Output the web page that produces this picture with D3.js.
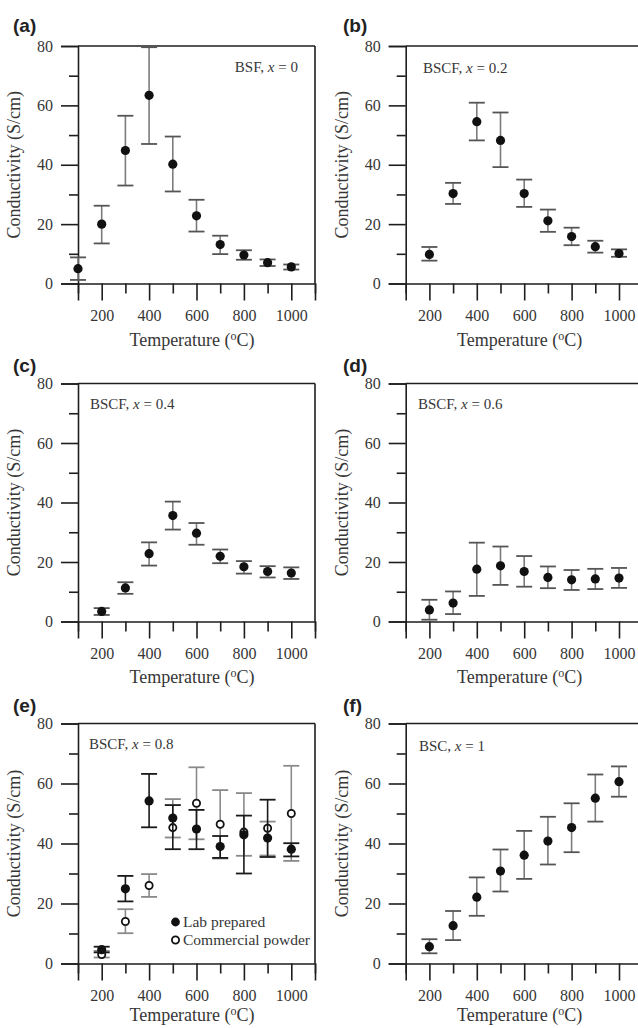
<!DOCTYPE html>
<html>
<head>
<meta charset="utf-8">
<script src="https://cdn.jsdelivr.net/npm/d3@7"></script>
<style>
  html, body { margin: 0; padding: 0; background: #fff; }
  svg { display: block; }
</style>
</head>
<body>
<svg id="chart" width="638" height="1028"></svg>
<script>
// ---------- data ----------
const tempsA = [100, 200, 300, 400, 500, 600, 700, 800, 900, 1000];
const temps = [200, 300, 400, 500, 600, 700, 800, 900, 1000];

const panelLabels = ["(a)", "(b)", "(c)", "(d)", "(e)", "(f)"];
const materialNames = ["BSF", "BSCF", "BSCF", "BSCF", "BSCF", "BSC"];
const xValues = ["0", "0.2", "0.4", "0.6", "0.8", "1"];

// (a) BSF, x = 0
const aMean = [5.0, 20.0, 44.8, 63.4, 40.2, 22.8, 13.1, 9.6, 7.0, 5.6];
const aHigh = [8.8, 26.2, 56.5, 79.6, 49.5, 28.2, 16.1, 11.2, 8.1, 6.4];
const aLow  = [1.2, 13.5, 33.0, 47.0, 31.0, 17.5, 9.9, 8.0, 5.9, 4.7];
// (b) BSCF, x = 0.2
const bMean = [9.8, 30.3, 54.5, 48.2, 30.3, 21.1, 15.8, 12.4, 10.1];
const bHigh = [12.3, 33.9, 60.9, 57.6, 35.0, 24.9, 18.8, 14.4, 11.5];
const bLow  = [7.7, 26.8, 48.2, 39.2, 25.8, 17.4, 12.9, 10.4, 9.0];
// (c) BSCF, x = 0.4
const cMean = [3.4, 11.3, 22.8, 35.6, 29.7, 21.9, 18.4, 16.8, 16.3];
const cHigh = [4.5, 13.2, 26.6, 40.3, 33.1, 24.2, 20.3, 18.6, 18.2];
const cLow  = [2.2, 9.3, 18.8, 30.9, 25.8, 19.6, 16.1, 14.8, 14.3];
// (d) BSCF, x = 0.6
const dMean = [3.9, 6.2, 17.6, 18.7, 16.8, 14.8, 14.0, 14.3, 14.6];
const dHigh = [7.3, 10.1, 26.5, 25.2, 22.0, 18.5, 17.3, 17.7, 18.0];
const dLow  = [0.6, 2.5, 8.6, 12.3, 11.7, 11.2, 10.6, 10.9, 11.3];
// (e) BSCF, x = 0.8 : lab prepared
const eLabMean = [4.6, 24.9, 54.2, 48.5, 44.8, 39.0, 42.9, 41.8, 38.1];
const eLabHigh = [5.6, 29.2, 63.2, 52.8, 51.2, 42.5, 49.3, 54.6, 40.1];
const eLabLow  = [3.7, 20.7, 45.4, 38.1, 38.1, 35.2, 30.0, 35.5, 35.7];
// (e) BSCF, x = 0.8 : commercial powder
const eComMean = [3.0, 14.0, 26.0, 45.3, 53.4, 46.4, 43.8, 45.1, 50.0];
const eComHigh = [4.2, 18.1, 29.8, 54.8, 65.4, 57.8, 56.8, 47.3, 65.9];
const eComLow  = [2.0, 10.1, 22.2, 42.0, 41.4, 35.0, 35.9, 36.0, 34.2];
// (f) BSC, x = 1
const fMean = [5.6, 12.6, 22.1, 30.8, 36.1, 40.8, 45.3, 55.1, 60.6];
const fHigh = [8.1, 17.5, 28.7, 38.0, 44.2, 48.9, 53.4, 63.0, 65.7];
const fLow  = [3.4, 7.8, 15.9, 24.0, 28.2, 33.0, 37.1, 47.3, 55.6];

const legendLabels = ["Lab prepared", "Commercial powder"];
const yMajorTicks = [0, 20, 40, 60, 80];
const yMinorTicks = [10, 30, 50, 70];
const xMajorTicks = [200, 400, 600, 800, 1000];
const xMinorTicks = [100, 300, 500, 700, 900, 1100];
const xTitle = "Temperature (";
const yTitle = "Conductivity (S/cm)";

// ---------- helpers ----------
function series(t, m, hi, lo) {
  return t.map((d, i) => ({ t: d, v: m[i], hi: hi[i], lo: lo[i] }));
}

const panels = [
  { series: [{ pts: series(tempsA, aMean, aHigh, aLow), open: false }] },
  { series: [{ pts: series(temps, bMean, bHigh, bLow), open: false }] },
  { series: [{ pts: series(temps, cMean, cHigh, cLow), open: false }] },
  { series: [{ pts: series(temps, dMean, dHigh, dLow), open: false }] },
  { series: [
      { pts: series(temps, eComMean, eComHigh, eComLow), open: true, barColor: "#8a8a8a", capColor: "#8a8a8a" },
      { pts: series(temps, eLabMean, eLabHigh, eLabLow), open: false, barColor: "#1a1a1a", capColor: "#1a1a1a" }
    ], legend: true },
  { series: [{ pts: series(temps, fMean, fHigh, fLow), open: false }] }
];

// layout (positions only)
const colLeft = [78, 405.7];
const plotW = 237;
const rowTop = [46, 383.5, 723.5];
const rowBottom = [283.5, 621.5, 963.5];
const xTitleBase = [346, 683, 1021];
const labelPos = [[13, 32], [343, 32], [13, 372], [343, 372], [13, 712], [343, 712]];
const annotPos = [
  { x: 298, y: 72, anchor: "end" },
  { x: 423, y: 73, anchor: "start" },
  { x: 90, y: 409, anchor: "start" },
  { x: 418, y: 409, anchor: "start" },
  { x: 89, y: 749, anchor: "start" },
  { x: 419, y: 751, anchor: "start" }
];

const serif = "'Liberation Serif', 'Times New Roman', Times, serif";
const textCol = "#363636";
const axisCol = "#1e1e1e";

const svg = d3.select("#chart");

panels.forEach((p, i) => {
  const col = i % 2, row = Math.floor(i / 2);
  const x0 = colLeft[col];
  const x = d3.scaleLinear().domain([100, 1100]).range([x0, x0 + plotW]);
  const y = d3.scaleLinear().domain([0, 80]).range([rowBottom[row], rowTop[row]]);
  const g = svg.append("g");

  // frame: top & right
  g.append("line").attr("x1", x(100)).attr("x2", x(1100)).attr("y1", y(80)).attr("y2", y(80))
    .attr("stroke", axisCol).attr("stroke-width", 1.6);
  g.append("line").attr("x1", x(1100)).attr("x2", x(1100)).attr("y1", y(80)).attr("y2", y(0))
    .attr("stroke", axisCol).attr("stroke-width", 1.6);

  // y axis
  const yMaj = g.append("g").attr("transform", `translate(${x(100)},0)`)
    .call(d3.axisLeft(y).tickValues(yMajorTicks).tickSize(17).tickPadding(8).tickFormat(d3.format("d")));
  const yMin = g.append("g").attr("transform", `translate(${x(100)},0)`)
    .call(d3.axisLeft(y).tickValues(yMinorTicks).tickSize(9).tickFormat(""));
  // x axis
  const xMaj = g.append("g").attr("transform", `translate(0,${y(0)})`)
    .call(d3.axisBottom(x).tickValues(xMajorTicks).tickSize(17).tickPadding(9).tickFormat(d3.format("d")));
  const xMin = g.append("g").attr("transform", `translate(0,${y(0)})`)
    .call(d3.axisBottom(x).tickValues(xMinorTicks).tickSize(10).tickFormat(""));

  [yMaj, yMin, xMaj, xMin].forEach(a => {
    a.selectAll("path.domain").attr("stroke", axisCol).attr("stroke-width", 1.6);
    a.selectAll(".tick line").attr("stroke", axisCol).attr("stroke-width", 1.6);
    a.selectAll(".tick text").attr("fill", textCol).attr("font-family", serif).attr("font-size", 16);
  });
  yMin.select("path.domain").remove();
  xMin.select("path.domain").remove();

  // axis titles
  const xt = g.append("text")
    .attr("x", x0 + 114).attr("y", xTitleBase[row])
    .attr("text-anchor", "middle").attr("font-family", serif).attr("font-size", 18).attr("fill", textCol);
  xt.append("tspan").text(xTitle);
  xt.append("tspan").attr("font-size", 12).attr("dy", -6).text("o");
  xt.append("tspan").attr("dy", 6).text("C)");

  g.append("text")
    .attr("transform", `translate(${x0 - 58},${(rowTop[row] + rowBottom[row]) / 2}) rotate(-90)`)
    .attr("text-anchor", "middle").attr("font-family", serif).attr("font-size", 18).attr("fill", textCol)
    .text(yTitle);

  // panel label
  g.append("text").attr("x", labelPos[i][0]).attr("y", labelPos[i][1])
    .attr("font-family", "'Liberation Sans', Arial, sans-serif").attr("font-weight", "bold")
    .attr("font-size", 19).attr("fill", "#222").text(panelLabels[i]);

  // annotation
  const an = g.append("text").attr("x", annotPos[i].x).attr("y", annotPos[i].y)
    .attr("text-anchor", annotPos[i].anchor).attr("font-family", serif).attr("font-size", 15).attr("fill", textCol);
  an.append("tspan").text(materialNames[i] + ", ");
  an.append("tspan").attr("font-style", "italic").text("x");
  an.append("tspan").text(" = " + xValues[i]);

  // data
  const capW = 16;
  p.series.forEach(s => {
    const sg = g.append("g");
    const bc = s.barColor || "#7c7c7c";
    const cc = s.capColor || "#555";
    sg.selectAll("line.v").data(s.pts).join("line").attr("class", "v")
      .attr("x1", d => x(d.t)).attr("x2", d => x(d.t))
      .attr("y1", d => y(d.hi)).attr("y2", d => y(d.lo))
      .attr("stroke", bc).attr("stroke-width", 1.6);
    sg.selectAll("line.ct").data(s.pts).join("line").attr("class", "ct")
      .attr("x1", d => x(d.t) - capW / 2).attr("x2", d => x(d.t) + capW / 2)
      .attr("y1", d => y(d.hi)).attr("y2", d => y(d.hi))
      .attr("stroke", cc).attr("stroke-width", 1.8);
    sg.selectAll("line.cb").data(s.pts).join("line").attr("class", "cb")
      .attr("x1", d => x(d.t) - capW / 2).attr("x2", d => x(d.t) + capW / 2)
      .attr("y1", d => y(d.lo)).attr("y2", d => y(d.lo))
      .attr("stroke", cc).attr("stroke-width", 1.8);
    sg.selectAll("circle").data(s.pts).join("circle")
      .attr("cx", d => x(d.t)).attr("cy", d => y(d.v))
      .attr("r", s.open ? 3.6 : 4.6)
      .attr("fill", s.open ? "#fff" : "#111")
      .attr("stroke", "#111").attr("stroke-width", s.open ? 1.8 : 0);
  });

  // legend for (e)
  if (p.legend) {
    const lx = 175.5, ly = [922, 940];
    g.append("circle").attr("cx", lx).attr("cy", ly[0]).attr("r", 4.4).attr("fill", "#111");
    g.append("circle").attr("cx", lx).attr("cy", ly[1]).attr("r", 3.6).attr("fill", "#fff")
      .attr("stroke", "#111").attr("stroke-width", 1.8);
    legendLabels.forEach((t, k) => {
      g.append("text").attr("x", lx + 7.5).attr("y", ly[k] + 5)
        .attr("font-family", serif).attr("font-size", 15.5).attr("fill", textCol).text(t);
    });
  }
});
</script>
</body>
</html>
